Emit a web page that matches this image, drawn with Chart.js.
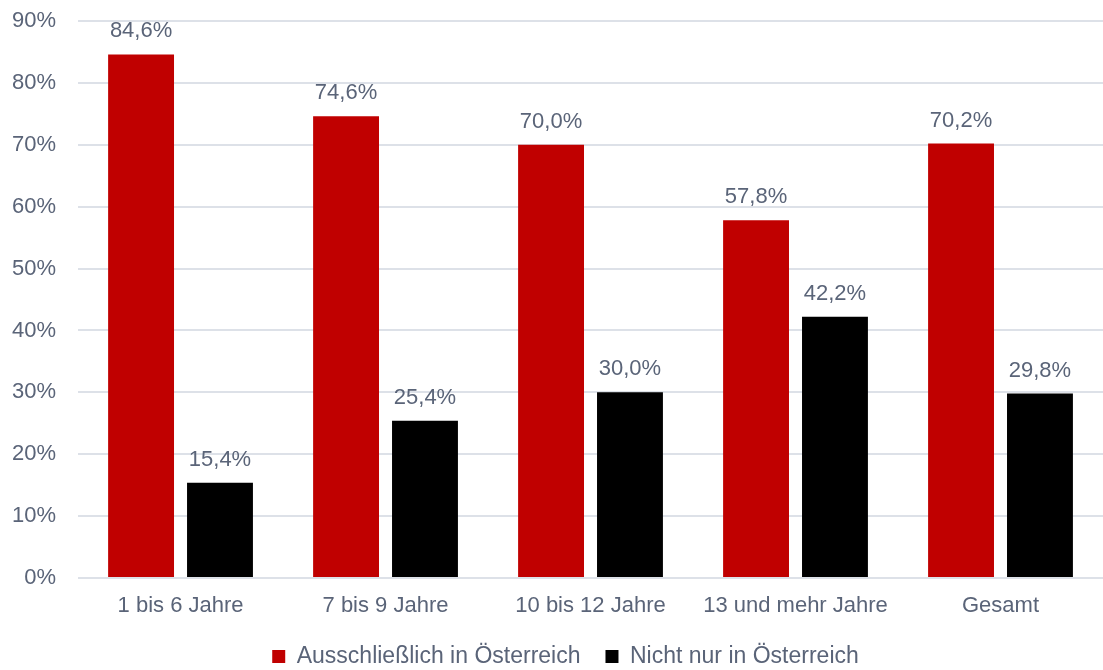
<!DOCTYPE html>
<html>
<head>
<meta charset="utf-8">
<script src="https://cdn.jsdelivr.net/npm/chart.js@4.4.1/dist/chart.umd.min.js"></script>
<style>
  html, body { margin: 0; padding: 0; background: #ffffff; }
  #wrap { width: 1103px; height: 670px; }
</style>
</head>
<body>
<div id="wrap"><canvas id="chart"></canvas></div>
<script>
// chart data
var categories = ['1 bis 6 Jahre', '7 bis 9 Jahre', '10 bis 12 Jahre', '13 und mehr Jahre', 'Gesamt'];
var seriesNames = ['Ausschließlich in Österreich', 'Nicht nur in Österreich'];
var onlyAustria = [84.6, 74.6, 70.0, 57.8, 70.2];
var notOnlyAustria = [15.4, 25.4, 30.0, 42.2, 29.8];
var yTicks = [0, 10, 20, 30, 40, 50, 60, 70, 80, 90];

var textColor = '#5a6478';
var gridColor = '#dde1e8';
var fontFamily = '"Liberation Sans", Arial, sans-serif';

// draws the value above each bar
var valueLabels = {
	id: 'valueLabels',
	afterLayout: function(chart) {
		// nudge the legend a bit to the right, like the original
		chart.legend.left += 38;
	},
	afterDatasetsDraw: function(chart) {
		var ctx = chart.ctx;
		ctx.save();
		ctx.font = '22px ' + fontFamily;
		ctx.fillStyle = textColor;
		ctx.textAlign = 'center';
		ctx.textBaseline = 'alphabetic';
		chart.data.datasets.forEach(function(ds, i) {
			chart.getDatasetMeta(i).data.forEach(function(bar, j) {
				var txt = ds.data[j].toFixed(1).replace('.', ',') + '%';
				ctx.fillText(txt, bar.x, bar.y - 17);
			});
		});
		ctx.restore();
	}
};

new Chart(document.getElementById('chart'), {
	type: 'bar',
	data: {
		labels: categories,
		datasets: [{
			label: seriesNames[0],
			data: onlyAustria,
			backgroundColor: '#c00000',
			categoryPercentage: 0.77,
			barPercentage: 0.835
		}, {
			label: seriesNames[1],
			data: notOnlyAustria,
			backgroundColor: '#000000',
			categoryPercentage: 0.77,
			barPercentage: 0.835
		}]
	},
	options: {
		responsive: true,
		maintainAspectRatio: false,
		animation: false,
		layout: { padding: { left: -10, right: 0, top: 21, bottom: -8 } },
		scales: {
			x: {
				grid: { display: false, drawTicks: false },
				border: { display: false },
				ticks: { color: textColor, font: { family: fontFamily, size: 22 }, padding: 15 },
				afterFit: function(scale) { scale.height = 42; }
			},
			y: {
				min: 0,
				max: 90,
				afterBuildTicks: function(axis) {
					axis.ticks = yTicks.map(function(v) { return { value: v }; });
				},
				afterFit: function(scale) { scale.paddingTop = 0; },
				grid: { color: gridColor, lineWidth: 2, drawTicks: false },
				border: { display: false },
				ticks: {
					color: textColor,
					font: { family: fontFamily, size: 22 },
					padding: 22,
					callback: function(v) { return v + '%'; }
				}
			}
		},
		plugins: {
			legend: {
				position: 'bottom',
				labels: {
					color: textColor,
					font: { family: fontFamily, size: 23 },
					boxWidth: 13,
					boxHeight: 13,
					padding: 25
				}
			},
			tooltip: { enabled: false }
		}
	},
	plugins: [valueLabels]
});
</script>
</body>
</html>
